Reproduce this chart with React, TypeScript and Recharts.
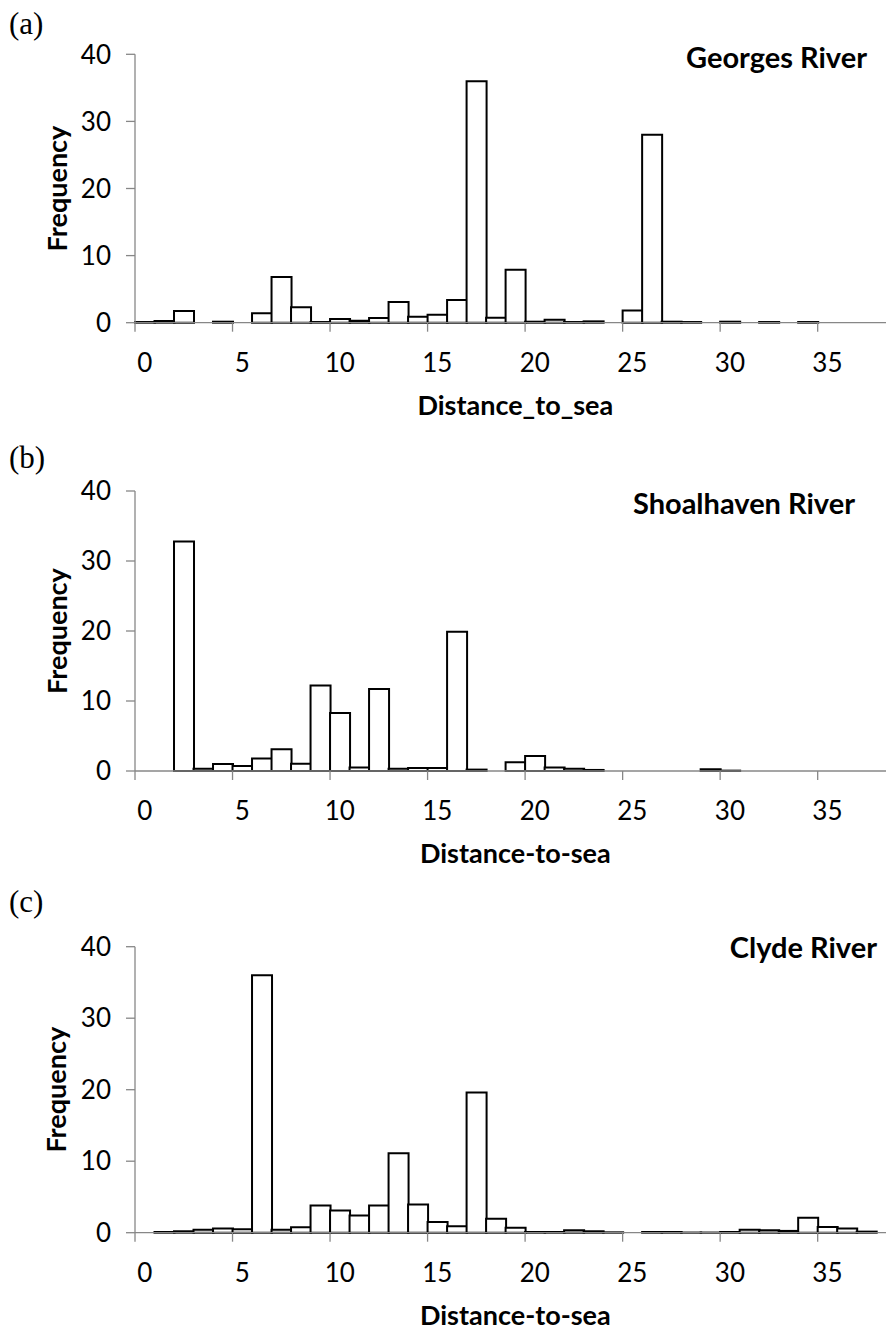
import React from 'react';
import { BarChart, Bar, XAxis, YAxis } from 'recharts';

// bin labels (distance to sea, km)
const bins = Array.from({ length: 39 }, (_, i) => i);

const georges = [
  0.1, 0.25, 1.75, 0, 0.15, 0, 1.4, 6.8, 2.3, 0.1,
  0.55, 0.3, 0.7, 3.1, 0.9, 1.2, 3.4, 36, 0.75, 7.9,
  0.15, 0.45, 0.1, 0.2, 0, 1.8, 28, 0.15, 0.1, 0,
  0.15, 0, 0.1, 0, 0.1, 0, 0, 0, 0,
];

const shoalhaven = [
  0, 0, 32.8, 0.33, 1.0, 0.7, 1.8, 3.1, 1.05, 12.2,
  8.3, 0.5, 11.7, 0.33, 0.43, 0.43, 19.9, 0.2, 0, 1.24,
  2.15, 0.5, 0.33, 0.15, 0, 0, 0, 0, 0, 0.25,
  0.05, 0, 0, 0, 0, 0, 0, 0, 0,
];

const clyde = [
  0, 0.1, 0.2, 0.4, 0.6, 0.5, 36, 0.4, 0.75, 3.8,
  3.1, 2.4, 3.8, 11.1, 3.95, 1.5, 0.9, 19.6, 1.95, 0.7,
  0.1, 0.1, 0.33, 0.2, 0.05, 0, 0.1, 0.1, 0.02, 0.02,
  0.1, 0.4, 0.33, 0.25, 2.1, 0.8, 0.6, 0.15, 0,
];

const yTicks = [0, 10, 20, 30, 40];

const AXIS = '#878787';
const FONT = 'Lato, "Noto Sans", sans-serif';
const TICK_SIZE = 26;
const TITLE_SIZE = 27;

const toRows = (vals: number[]) => bins.map((b, i) => ({ bin: b, freq: vals[i] }));

const XTick = (props: any) => {
  const { x, y, payload, index } = props;
  if (index % 5 !== 0) return null;
  const half = payload && payload.offset ? payload.offset : 9.75;
  return (
    <g>
      <line x1={x - half} x2={x - half} y1={y} y2={y + 9} stroke={AXIS} strokeWidth={1.3} />
      <text x={x} y={y + 40} dy="0.355em" textAnchor="middle" fontSize={TICK_SIZE} fontFamily={FONT} fill="#000">
        {payload.value}
      </text>
    </g>
  );
};

interface PanelProps {
  top: number;
  svgHeight: number;
  plotTop: number;
  plotHeight: number;
  letter: string;
  letterY: number;
  title: string;
  titleRight: number;
  titleY: number;
  xTitle: string;
  values: number[];
}

const W = 906;
const LEFT = 135;
const RIGHT = 10.3;

const Panel: React.FC<PanelProps> = (p) => {
  const bottom = p.plotTop + p.plotHeight;
  const midX = LEFT + (W - LEFT - RIGHT) / 2;
  return (
    <div style={{ position: 'absolute', left: 0, top: p.top }}>
      <BarChart
        width={W}
        height={p.svgHeight}
        data={toRows(p.values)}
        margin={{ top: p.plotTop, right: RIGHT, bottom: 0, left: 75 }}
        barCategoryGap={0}
        barGap={0}
      >
        <XAxis
          dataKey="bin"
          type="category"
          interval={0}
          height={p.svgHeight - bottom}
          tick={<XTick />}
          tickLine={false}
          tickSize={0}
          tickMargin={0}
          axisLine={{ stroke: AXIS, strokeWidth: 1.3 }}
        />
        <YAxis
          width={60}
          domain={[0, 40]}
          ticks={yTicks}
          interval={0}
          tickSize={9}
          tickMargin={15}
          axisLine={{ stroke: AXIS, strokeWidth: 1.3 }}
          tickLine={{ stroke: AXIS, strokeWidth: 1.3 }}
          tick={{ fill: '#000', fontSize: TICK_SIZE, fontFamily: FONT }}
        />
        <Bar dataKey="freq" fill="#fff" stroke="#000" strokeWidth={2} isAnimationActive={false} />
        <text x={9} y={p.letterY} fontFamily='"Liberation Serif", serif' fontSize={31} fill="#000">
          {p.letter}
        </text>
        <text x={p.titleRight} y={p.titleY} textAnchor="end" fontFamily={FONT} fontWeight="bold" fontSize={TITLE_SIZE + 2} fill="#000">
          {p.title}
        </text>
        <text
          x={56}
          y={p.plotTop + p.plotHeight / 2}
          transform={`rotate(-90 56 ${p.plotTop + p.plotHeight / 2})`}
          textAnchor="middle"
          dominantBaseline="central"
          fontFamily={FONT}
          fontWeight="bold"
          fontSize={TITLE_SIZE}
          fill="#000"
        >
          Frequency
        </text>
        <text x={midX} y={bottom + 92} textAnchor="middle" fontFamily={FONT} fontWeight="bold" fontSize={TITLE_SIZE} fill="#000">
          {p.xTitle}
        </text>
      </BarChart>
    </div>
  );
};

export default function App() {
  return (
    <div style={{ position: 'absolute', left: 0, top: 0, width: 886, height: 1331, overflow: 'hidden', background: '#fff' }}>
      <Panel
        top={0}
        svgHeight={440}
        plotTop={54.3}
        plotHeight={268.4}
        letter="(a)"
        letterY={34}
        title="Georges River"
        titleRight={867}
        titleY={68}
        xTitle="Distance_to_sea"
        values={georges}
      />
      <Panel
        top={440}
        svgHeight={440}
        plotTop={51}
        plotHeight={280}
        letter="(b)"
        letterY={28}
        title="Shoalhaven River"
        titleRight={855}
        titleY={74}
        xTitle="Distance-to-sea"
        values={shoalhaven}
      />
      <Panel
        top={880}
        svgHeight={451}
        plotTop={66.7}
        plotHeight={286}
        letter="(c)"
        letterY={32}
        title="Clyde River"
        titleRight={877}
        titleY={78}
        xTitle="Distance-to-sea"
        values={clyde}
      />
    </div>
  );
}
